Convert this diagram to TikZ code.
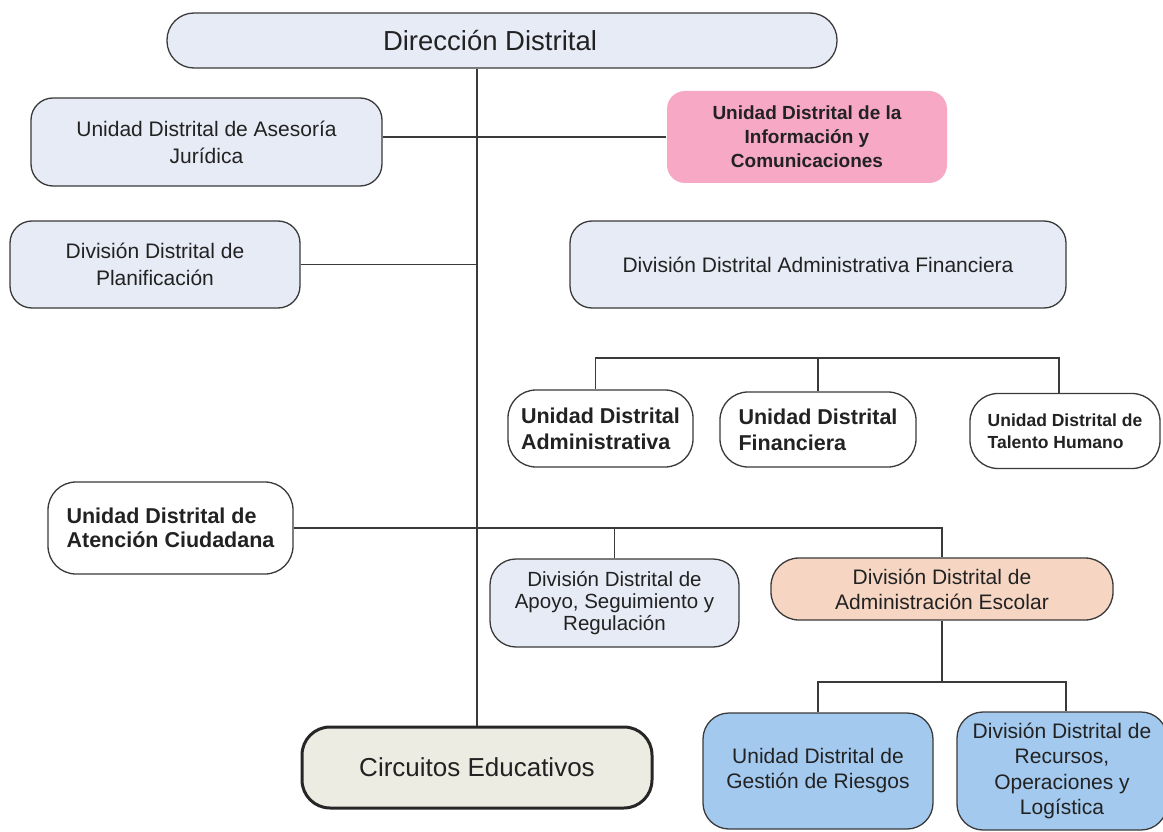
\documentclass[tikz,border=0pt]{standalone}
\usepackage{fontspec}
\setmainfont{Liberation Sans}
\definecolor{linec}{HTML}{3A3A3A}
\definecolor{textc}{HTML}{222222}
\definecolor{boxfill}{HTML}{E7EBF6}
\definecolor{pinkfill}{HTML}{F6A8C5}
\definecolor{peachfill}{HTML}{F6D6C3}
\definecolor{bluefill}{HTML}{A3C9EF}
\definecolor{circfill}{HTML}{ECECE2}
\tikzset{
  box/.style={draw=linec, line width=1.3pt, rounded corners=22pt, fill=boxfill,
    inner sep=0pt, align=center, text=textc,
    font=\fontsize{21}{27}\selectfont},
  whitebox/.style={box, fill=white, rounded corners=28pt, align=left,
    font=\fontsize{21.5}{25}\selectfont\bfseries},
  conn/.style={draw=linec, line width=1.3pt}
}
\begin{document}
\begin{tikzpicture}[x=1pt, y=-1pt]
\useasboundingbox[fill=white] (0,0) rectangle (1163,832);

% nodes
\node[box, minimum width=670pt, minimum height=55pt, rounded corners=27pt,
  font=\fontsize{27.5}{32}\selectfont] (dir) at (502,40.5) {Dirección Distrital\hspace*{24pt}};
\node[box, minimum width=351pt, minimum height=88pt] (ase) at (206.5,142)
  {Unidad Distrital de Asesoría\\Jurídica};
\node[box, minimum width=290pt, minimum height=87pt] (pla) at (155,264.5)
  {División Distrital de\\Planificación};
\node[box, draw=none, fill=pinkfill, minimum width=280pt, minimum height=92pt,
  rounded corners=18pt, font=\fontsize{19}{24}\selectfont\bfseries] (inf) at (807,137)
  {Unidad Distrital de la\\Información y\\Comunicaciones\hspace*{0pt}};
\node[box, minimum width=496pt, minimum height=87pt] (daf) at (818,264.5)
  {División Distrital Administrativa Financiera};

\node[whitebox, minimum width=185pt, minimum height=77pt, font=\fontsize{21.5}{26}\selectfont\bfseries] (uad) at (600.5,428.5)
  {Unidad Distrital\\Administrativa};
\node[whitebox, minimum width=196pt, minimum height=75pt, font=\fontsize{21.5}{26}\selectfont\bfseries] (ufi) at (818,429.5)
  {Unidad Distrital\\Financiera};
\node[whitebox, minimum width=190pt, minimum height=75pt,
  font=\fontsize{17.5}{22}\selectfont\bfseries] (uth) at (1065,431)
  {Unidad Distrital de\\Talento Humano};

\node[whitebox, minimum width=245pt, minimum height=92pt, font=\fontsize{21.5}{23.5}\selectfont\bfseries] (atc) at (170.5,528)
  {Unidad Distrital de\\Atención Ciudadana};
\node[box, minimum width=249pt, minimum height=88pt, rounded corners=26pt,
  font=\fontsize{20.5}{21.8}\selectfont] (apo) at (614.5,603)
  {División Distrital de\\Apoyo, Seguimiento y\\Regulación};
\node[box, fill=peachfill, minimum width=342pt, minimum height=62pt, rounded corners=28pt,
  font=\fontsize{21}{25}\selectfont] (aes) at (942,589)
  {División Distrital de\\Administración Escolar};

\node[box, fill=bluefill, minimum width=230pt, minimum height=116pt, rounded corners=26pt,
  font=\fontsize{21}{25}\selectfont] (ger) at (818,771)
  {Unidad Distrital de\\Gestión de Riesgos};
\node[box, fill=bluefill, minimum width=210pt, minimum height=118pt, rounded corners=26pt,
  font=\fontsize{21}{25.5}\selectfont] (rec) at (1062,771)
  {División Distrital de\\Recursos,\\Operaciones y\\Logística};

\node[box, fill=circfill, line width=3pt, draw=black!85, minimum width=350pt, minimum height=81pt,
  rounded corners=28pt, font=\fontsize{26}{30}\selectfont] (cir) at (477,767.5)
  {Circuitos Educativos};

% connectors
\draw[conn] (cir.north |- dir.south) -- (cir.north);
\draw[conn] (ase.east |- inf.west) -- (inf.west);
\draw[conn] (pla.east) -- (pla.east -| cir.north);

\coordinate (br) at (818,358);
\draw[conn] ([xshift=-5pt]uad.north) |- (br) -| ([xshift=-6pt]uth.north);
\draw[conn] (br) -- (ufi.north);

\draw[conn] (atc.east) -| (aes.north);
\draw[conn] (apo.north |- atc.east) -- (apo.north);

\coordinate (sb) at (942,682);
\draw[conn] (aes.south) -- (sb);
\draw[conn] (ger.north) |- (sb) -| ([xshift=4pt]rec.north);
\end{tikzpicture}
\end{document}
